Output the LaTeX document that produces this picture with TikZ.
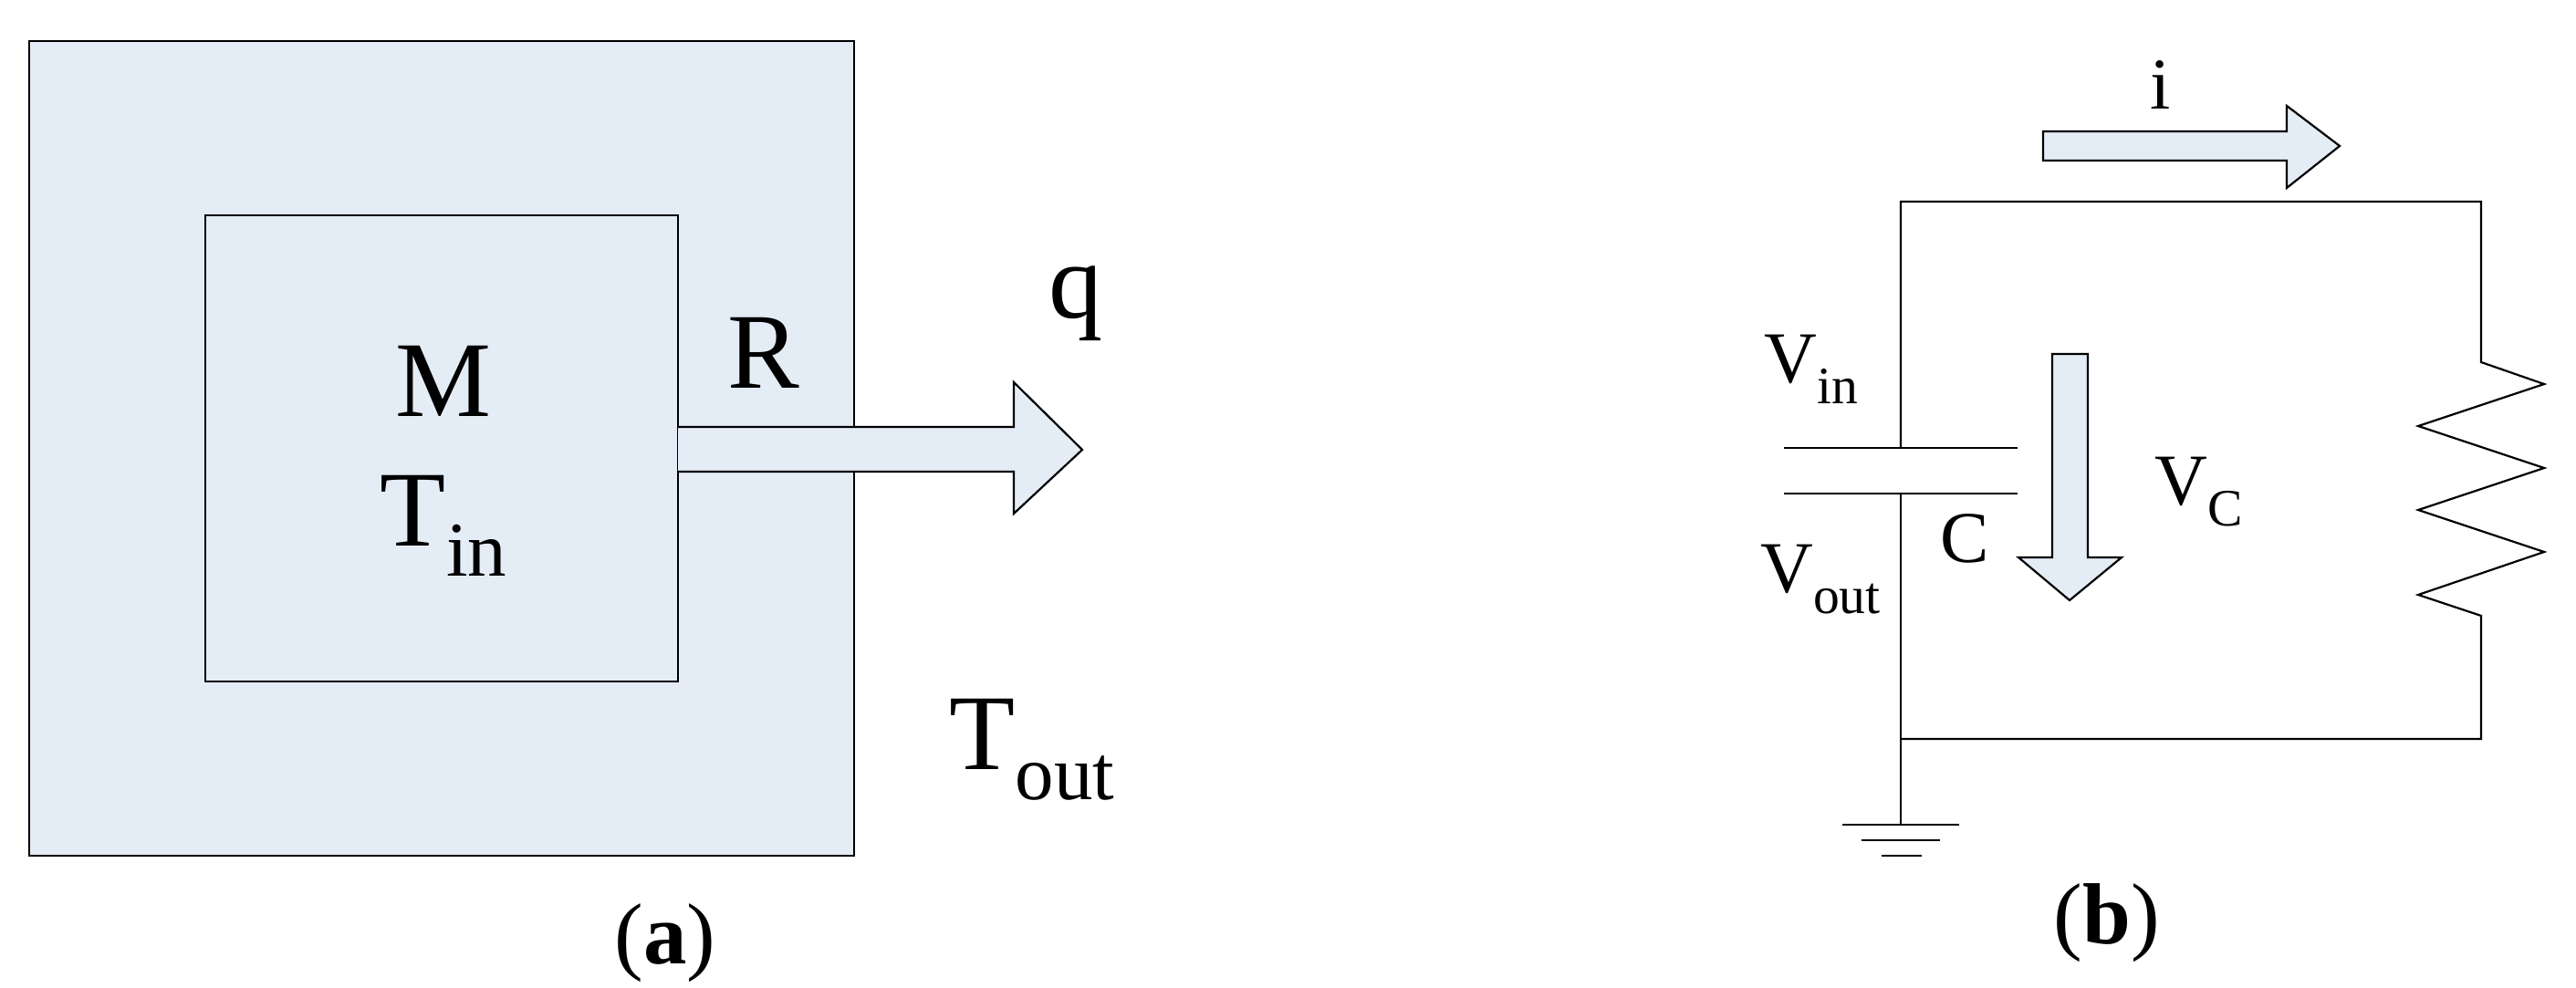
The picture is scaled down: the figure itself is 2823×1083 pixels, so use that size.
\documentclass[tikz,border=0pt]{standalone}
\usepackage{fontspec}
\setmainfont{Liberation Serif}
\newcommand{\mysb}[1]{\raisebox{-0.28em}{\scalebox{0.72}{#1}}}
\begin{document}
\begin{tikzpicture}[x=1pt,y=-1pt,
  fillc/.style={fill={rgb,255:red,228;green,236;blue,246}},
  ln/.style={draw=black,line width=2.2pt},
  big/.style={font=\fontsize{118}{118}\selectfont,inner sep=0},
  mid/.style={font=\fontsize{80}{80}\selectfont,inner sep=0},
  captxt/.style={font=\fontsize{95}{95}\selectfont,inner sep=0}]
\useasboundingbox (0,0) rectangle (2823,1083);
% (a)
\draw[ln,fillc] (32,45) rectangle (936,938);
\draw[ln,fillc] (225,236) rectangle (743,747);
\draw[ln,fillc,line join=miter] (743,468) -- (1111,468) -- (1111,419) -- (1186,493) -- (1111,563) -- (1111,517) -- (743,517);
\node[big] (M) at (486,418) {M};
\node[big] (Tin) at (486,576) {T\mysb{in}};
\node[big] (R) at (837,387) {R};
\node[big] (q) at (1179,333) {q};
\node[big] (Tout) at (1131,822) {T\mysb{out}};
\node[captxt] (la) at (729,1034) {(\textbf{a})};
% (b)
\coordinate (tl) at (2083,221); \coordinate (tr) at (2719,221);
\coordinate (bl) at (2083,810); \coordinate (br) at (2719,810);
\coordinate (p1) at (2083,491); \coordinate (p2) at (2083,541);
\coordinate (g) at (2083,904);
\draw[ln] (p1) -- (tl) -- (tr) -- (2719,397) -- (2788,421) -- (2650,467) -- (2788,513) -- (2650,559) -- (2788,605) -- (2650,652) -- (2719,675) -- (br) -- (bl);
\draw[ln] (p2) -- (g);
\draw[ln] (1955,491) -- (2211,491);
\draw[ln] (1955,541) -- (2211,541);
\draw[ln] (2019,904) -- (2147,904);
\draw[ln] (2040,921) -- (2126,921);
\draw[ln] (2062,938) -- (2106,938);
\draw[ln,fillc] (2239,144) -- (2506,144) -- (2506,116) -- (2564,160) -- (2506,206) -- (2506,176) -- (2239,176) -- cycle;
\draw[ln,fillc] (2249,388) -- (2288,388) -- (2288,611) -- (2325,611) -- (2268,658) -- (2212,611) -- (2249,611) -- cycle;
\node[mid] (i) at (2368,93) {i};
\node[mid] (vin) at (1985,405) {V\mysb{in}};
\node[mid] (vout) at (1995,635) {V\mysb{out}};
\node[mid] (C) at (2153,590) {C};
\node[mid] (vc) at (2410,539) {V\mysb{C}};
\node[captxt] (lb) at (2309,1012) {(\textbf{b})};
\end{tikzpicture}
\end{document}
